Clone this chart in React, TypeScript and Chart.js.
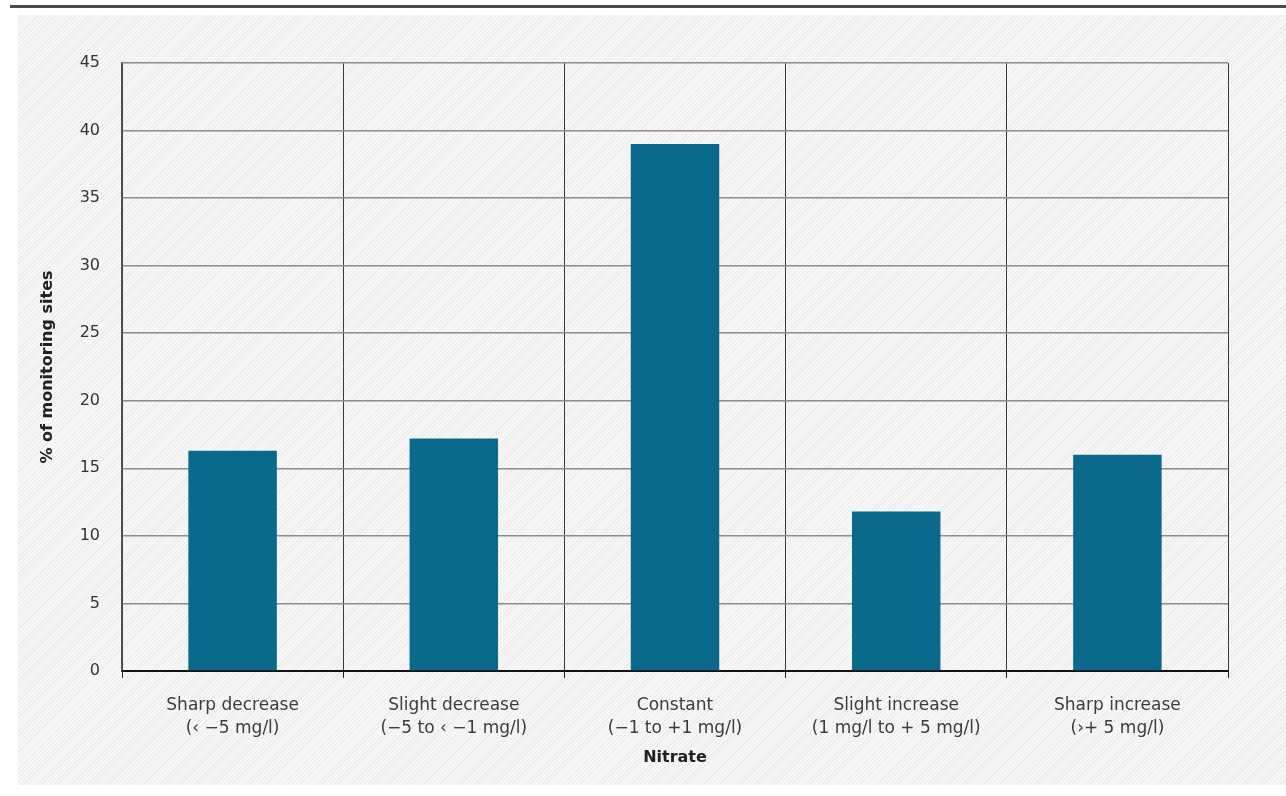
import React, { useEffect, useRef } from "react";
import { Chart, registerables } from "chart.js";

Chart.register(...registerables);

const categories: string[][] = [
  ["Sharp decrease", "(‹ −5 mg/l)"],
  ["Slight decrease", "(−5 to ‹ −1 mg/l)"],
  ["Constant", "(−1 to +1 mg/l)"],
  ["Slight increase", "(1 mg/l to + 5 mg/l)"],
  ["Sharp increase", "(›+ 5 mg/l)"],
];
const values: number[] = [16.3, 17.2, 39.0, 11.8, 16.0];
const yTicks: number[] = [0, 5, 10, 15, 20, 25, 30, 35, 40, 45];
const xTitle = "Nitrate";
const yTitle = "% of monitoring sites";

const FONT = "'DejaVu Sans', 'Open Sans', sans-serif";

export default function App() {
  const ref = useRef<HTMLCanvasElement | null>(null);
  useEffect(() => {
    if (!ref.current) return;
    const chart = new Chart(ref.current, {
      type: "bar",
      data: {
        labels: categories,
        datasets: [
          {
            data: values,
            backgroundColor: "#0b6a8c",
            borderWidth: 0,
            categoryPercentage: 0.4,
            barPercentage: 1,
          },
        ],
      },
      options: {
        animation: false,
        responsive: false,
        maintainAspectRatio: false,
        layout: { padding: { top: 63, right: 58, left: 30, bottom: 0 } },
        plugins: { legend: { display: false }, tooltip: { enabled: false } },
        scales: {
          x: {
            offset: true,
            grid: {
              offset: true,
              color: "#3a3a3a",
              lineWidth: 1,
              drawTicks: true,
              tickLength: 7,
              tickColor: "#222",
            },
            border: { color: "#111", width: 2 },
            ticks: {
              color: "#3c3c3c",
              font: { family: FONT, size: 17, lineHeight: 1.3 },
              padding: 17,
              maxRotation: 0,
              autoSkip: false,
            },
            title: {
              display: true,
              text: xTitle,
              color: "#222",
              font: { family: FONT, size: 16, weight: "bold" },
              padding: { top: 2, bottom: 29 },
            },
            afterFit: (s: any) => {
              s.height = 125;
            },
          },
          y: {
            min: 0,
            max: 45,
            afterBuildTicks: (s: any) => {
              s.ticks = yTicks.map((v) => ({ value: v }));
            },
            grid: {
              color: "#8c8c8c",
              lineWidth: 1.5,
              drawTicks: false,
            },
            border: { color: "#555", width: 1.5 },
            ticks: {
              color: "#333",
              font: { family: FONT, size: 16 },
              padding: 22,
            },
            title: {
              display: true,
              text: yTitle,
              color: "#222",
              font: { family: FONT, size: 16, weight: "bold" },
              padding: { top: 8, bottom: 0 },
            },
            afterFit: (s: any) => {
              s.width = 92;
            },
          },
        },
      },
    });
    return () => chart.destroy();
  }, []);

  return (
    <div
      style={{
        position: "fixed",
        left: 0,
        top: 0,
        width: 1286,
        height: 796,
        background: "#ffffff",
        overflow: "hidden",
      }}
    >
      <div
        style={{
          position: "absolute",
          left: 10,
          right: 0,
          top: 5,
          height: 3,
          background: "#4a4a4a",
        }}
      />
      <div
        style={{
          position: "absolute",
          left: 18,
          right: 0,
          top: 15,
          bottom: 11,
          background:
            "repeating-linear-gradient(135deg, #f7f7f7 0px, #f7f7f7 2px, #ebebeb 2px, #ebebeb 3px)",
        }}
      />
      <canvas
        ref={ref}
        width={1286}
        height={796}
        style={{ position: "absolute", left: 0, top: 0, width: 1286, height: 796 }}
      />
    </div>
  );
}
